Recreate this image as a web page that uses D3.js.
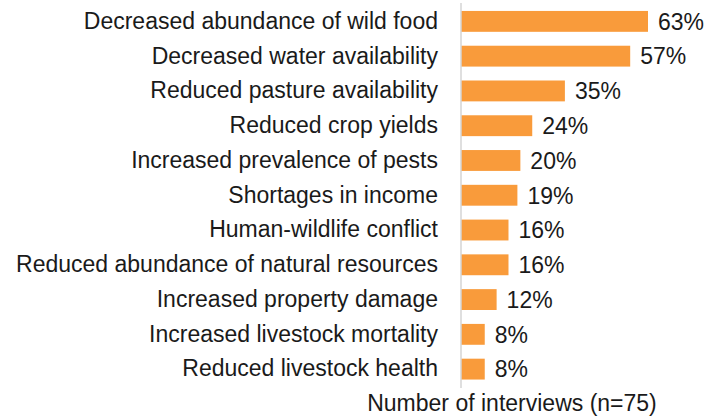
<!DOCTYPE html>
<html>
<head>
<meta charset="utf-8">
<script src="https://cdn.jsdelivr.net/npm/d3@7"></script>
<style>
  body { margin: 0; background: #fff; }
  text { font-family: "Liberation Sans", Arial, sans-serif; fill: #1a1a1a; }
</style>
</head>
<body>
<script>
// categories, top to bottom
var categories = [
  "Decreased abundance of wild food",
  "Decreased water availability",
  "Reduced pasture availability",
  "Reduced crop yields",
  "Increased prevalence of pests",
  "Shortages in income",
  "Human-wildlife conflict",
  "Reduced abundance of natural resources",
  "Increased property damage",
  "Increased livestock mortality",
  "Reduced livestock health"
];
// percent of interviews
var values = [63, 57, 35, 24, 20, 19, 16, 16, 12, 8, 8];
var axisTitle = "Number of interviews (n=75)";

var W = 717, H = 417;
var svg = d3.select("body").append("svg")
  .attr("width", W).attr("height", H);

var x = d3.scaleLinear().domain([0, 63]).range([461, 648]);
var y = d3.scaleBand().domain(categories).range([4, 386.5])
  .paddingInner(0.4).paddingOuter(0.2);

var data = categories.map(function(c, i) { return {name: c, v: values[i]}; });

// bars
svg.selectAll("rect.bar").data(data).enter()
  .append("rect").attr("class", "bar")
  .attr("x", x(0))
  .attr("y", function(d) { return y(d.name); })
  .attr("width", function(d) { return x(d.v) - x(0); })
  .attr("height", y.bandwidth())
  .attr("fill", "#f99b3b");

// vertical axis line, no ticks
var yAxis = d3.axisLeft(y).tickSize(0).tickPadding(23);
var g = svg.append("g").attr("transform", "translate(" + x(0) + ",0)").call(yAxis);
g.select(".domain").attr("stroke", "#d4d4d4").attr("stroke-width", 1.5)
  .attr("d", "M0,3V388");
g.selectAll("text")
  .style("font-size", "23px")
  .style("font-family", "'Liberation Sans', Arial, sans-serif")
  .attr("fill", "#1a1a1a");

// value labels
svg.selectAll("text.val").data(data).enter()
  .append("text").attr("class", "val")
  .attr("x", function(d) { return x(d.v) + 10; })
  .attr("y", function(d) { return y(d.name) + y.bandwidth() / 2; })
  .attr("dy", "0.36em")
  .style("font-size", "23px")
  .text(function(d) { return d.v + "%"; });

// axis title
svg.append("text")
  .attr("x", 512).attr("y", 411)
  .attr("text-anchor", "middle")
  .style("font-size", "23px")
  .text(axisTitle);
</script>
</body>
</html>
